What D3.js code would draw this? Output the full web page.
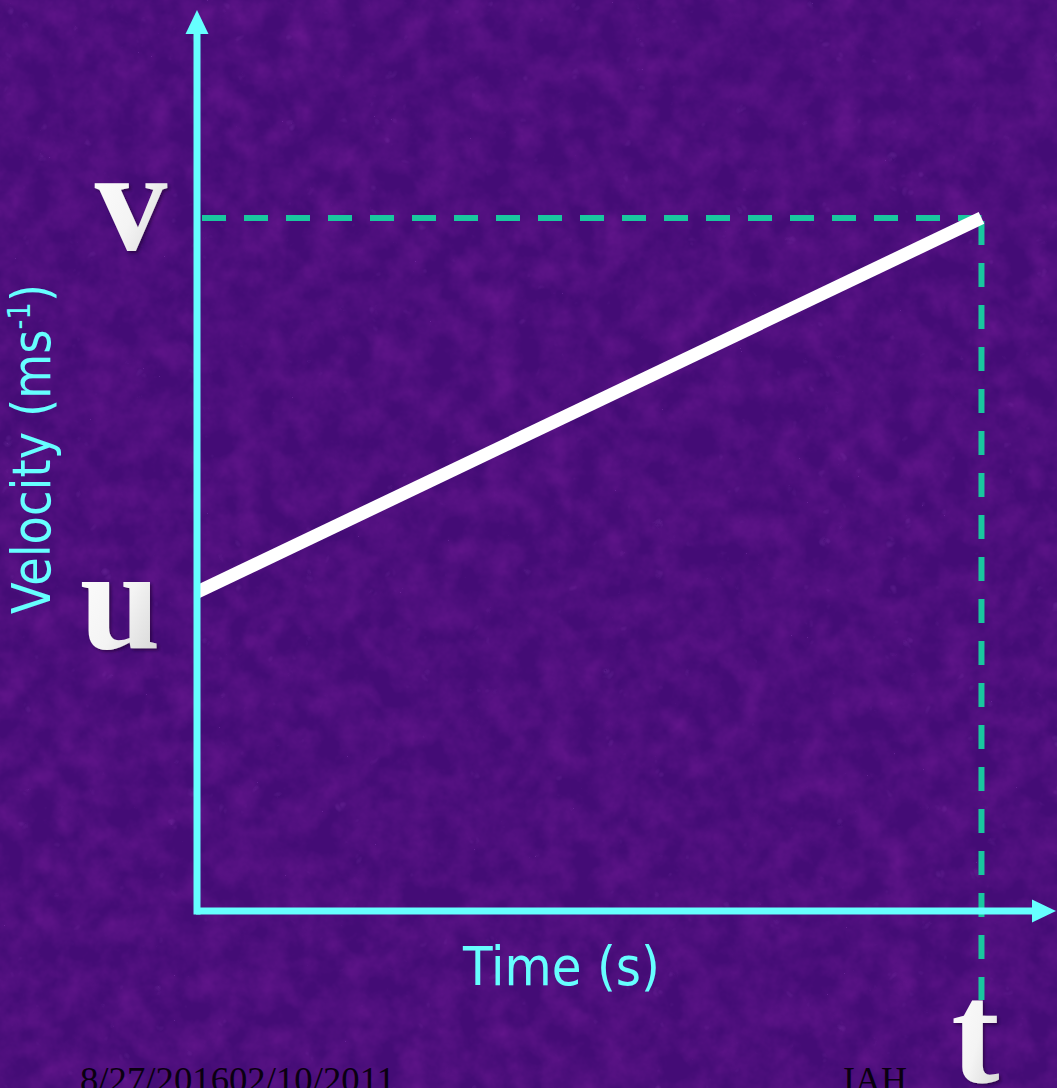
<!DOCTYPE html>
<html>
<head>
<meta charset="utf-8">
<script src="https://cdn.jsdelivr.net/npm/d3@7"></script>
<style>
  html, body { margin: 0; padding: 0; background: #440c76; }
  svg { display: block; }
</style>
</head>
<body>
<script>
// Uniform acceleration: velocity rises linearly from u to v over time t
const timePoints = [0, 10];          // start, t
const velocityPoints = [4.6, 10];    // u, v
const axisLabels = { x: "Time (s)", y: "Velocity (ms", ySup: "-1", yEnd: ")" };
const markLabels = ["u", "v", "t"];
const footerLeft = "8/27/201602/10/2011";
const footerRight = "IAH";

const W = 1057, H = 1088;
const svg = d3.select("body").append("svg").attr("width", W).attr("height", H);
const defs = svg.append("defs");

// mottled purple backdrop: darker blotches plus faint lighter veins
const tex = defs.append("filter").attr("id", "tex").attr("x", 0).attr("y", 0)
  .attr("width", "100%").attr("height", "100%");
tex.append("feTurbulence").attr("type", "fractalNoise").attr("baseFrequency", 0.035)
  .attr("numOctaves", 4).attr("seed", 7).attr("result", "n");
tex.append("feColorMatrix").attr("in", "n").attr("type", "matrix")
  .attr("values", "0 0 0 0 0.16  0 0 0 0 0.01  0 0 0 0 0.30  0.9 0.6 0 0 -0.55");
svg.append("rect").attr("width", W).attr("height", H).attr("fill", "#440c76");
svg.append("rect").attr("width", W).attr("height", H).attr("filter", "url(#tex)");
const tex2 = defs.append("filter").attr("id", "tex2").attr("x", 0).attr("y", 0)
  .attr("width", "100%").attr("height", "100%");
tex2.append("feTurbulence").attr("type", "turbulence").attr("baseFrequency", 0.06)
  .attr("numOctaves", 2).attr("seed", 3).attr("result", "n");
tex2.append("feColorMatrix").attr("in", "n").attr("type", "matrix")
  .attr("values", "0 0 0 0 0.42  0 0 0 0 0.12  0 0 0 0 0.70  0 0 0.6 0 -0.36");
svg.append("rect").attr("width", W).attr("height", H).attr("filter", "url(#tex2)");

// bevelled white for the symbol letters
const grad = defs.append("linearGradient").attr("id", "bevel")
  .attr("x1", 0).attr("y1", 0).attr("x2", 1).attr("y2", 1);
grad.append("stop").attr("offset", "0%").attr("stop-color", "#ffffff");
grad.append("stop").attr("offset", "55%").attr("stop-color", "#f4f4f4");
grad.append("stop").attr("offset", "100%").attr("stop-color", "#cfcfcf");
const shadow = defs.append("filter").attr("id", "shade");
shadow.append("feDropShadow").attr("dx", 2).attr("dy", 2).attr("stdDeviation", 1.5)
  .attr("flood-color", "#1a0030").attr("flood-opacity", 0.6);

const x = d3.scaleLinear().domain([0, 10.95]).range([197, 1056]);
const y = d3.scaleLinear().domain([0, 13]).range([911, 10]);

const AXIS = "#66ffff", DASH = "#19c79f";

// guide lines from the end point back to each axis
const t1 = timePoints[1], v1 = velocityPoints[1];
svg.append("line")
  .attr("x1", x(0) + 5).attr("y1", y(v1)).attr("x2", x(t1)).attr("y2", y(v1))
  .attr("stroke", DASH).attr("stroke-width", 6).attr("stroke-dasharray", "24 18");
svg.append("line")
  .attr("x1", x(t1)).attr("y1", y(v1) + 3).attr("x2", x(t1)).attr("y2", 1000)
  .attr("stroke", DASH).attr("stroke-width", 6).attr("stroke-dasharray", "24 18");

// velocity-time line
const line = d3.line().x((d, i) => x(timePoints[i])).y(d => y(d));
svg.append("path").datum(velocityPoints)
  .attr("d", line).attr("fill", "none")
  .attr("stroke", "#ffffff").attr("stroke-width", 13).attr("stroke-linecap", "butt");

// axes with arrowheads
const x0 = x(0), y0 = y(0), yTop = y.range()[1], xEnd = x.range()[1];
svg.append("line").attr("x1", x0).attr("y1", y0 + 3.5).attr("x2", x0).attr("y2", yTop + 20)
  .attr("stroke", AXIS).attr("stroke-width", 7);
svg.append("line").attr("x1", x0 - 1).attr("y1", y0).attr("x2", xEnd - 20).attr("y2", y0)
  .attr("stroke", AXIS).attr("stroke-width", 7);
svg.append("path")
  .attr("d", `M${x0},${yTop} L${x0 + 11.5},${yTop + 24} L${x0 - 11.5},${yTop + 24} Z`)
  .attr("fill", AXIS);
svg.append("path")
  .attr("d", `M${xEnd},${y0} L${xEnd - 24},${y0 - 11.5} L${xEnd - 24},${y0 + 11.5} Z`)
  .attr("fill", AXIS);

// axis titles
svg.append("text")
  .attr("x", 463).attr("y", 985)
  .attr("font-family", "DejaVu Sans, Verdana, sans-serif").attr("font-size", 54)
  .attr("fill", AXIS)
  .attr("textLength", 197).attr("lengthAdjust", "spacingAndGlyphs")
  .text(axisLabels.x);

const yt = svg.append("text")
  .attr("transform", "translate(50,614) rotate(-90)")
  .attr("font-family", "DejaVu Sans, Verdana, sans-serif").attr("font-size", 54)
  .attr("fill", AXIS)
  .attr("textLength", 330).attr("lengthAdjust", "spacingAndGlyphs");
yt.append("tspan").text(axisLabels.y);
yt.append("tspan").attr("font-size", 32).attr("dy", -20).text(axisLabels.ySup);
yt.append("tspan").attr("dy", 20).text(axisLabels.yEnd);

// u, v, t symbols
const sym = svg.append("g")
  .attr("font-family", "Liberation Serif, Times New Roman, serif")
  .attr("font-weight", "bold").attr("font-size", 145)
  .attr("fill", "url(#bevel)").attr("filter", "url(#shade)")
  .attr("text-anchor", "middle");
sym.append("text").attr("x", 120).attr("y", y(velocityPoints[0]) + 56).text(markLabels[0]);
sym.append("text").attr("x", 131).attr("y", y(velocityPoints[1]) + 32).text(markLabels[1]);
sym.append("text").attr("x", x(timePoints[1]) - 6).attr("y", 1082).text(markLabels[2]);

// footer, running off the bottom edge
const foot = svg.append("g")
  .attr("font-family", "Liberation Serif, Times New Roman, serif")
  .attr("font-size", 36).attr("fill", "#0a0010");
foot.append("text").attr("x", 80).attr("y", 1092)
  .attr("textLength", 315).attr("lengthAdjust", "spacingAndGlyphs").text(footerLeft);
foot.append("text").attr("x", 843).attr("y", 1092)
  .attr("textLength", 64).attr("lengthAdjust", "spacingAndGlyphs").text(footerRight);
</script>
</body>
</html>
